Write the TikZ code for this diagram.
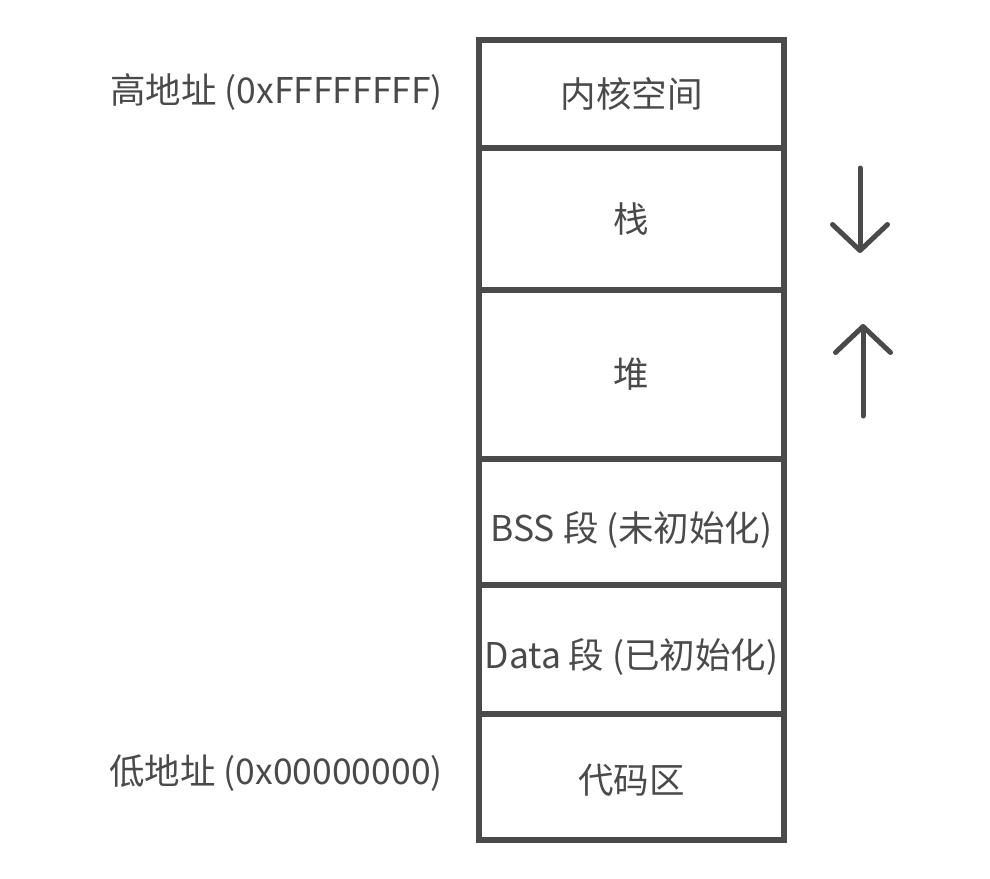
\documentclass[tikz,border=0pt]{standalone}
\usepackage{fontspec}
\setmainfont{Noto Sans CJK SC}
\usepackage{xcolor}
\usepackage{tikz}
\usetikzlibrary{arrows.meta,positioning}
\definecolor{memgray}{HTML}{4A4A4A}

\tikzset{
  seg/.style={draw=memgray, line width=6pt, minimum width=305pt, outer sep=0pt,
    inner sep=0pt, text=memgray, font=\fontsize{35.5}{40}\selectfont},
  addr/.style={text=memgray, font=\fontsize{35.5}{40}\selectfont, anchor=east, inner sep=0pt},
  growarrow/.style={draw=memgray, line width=5pt, line cap=round,
    -{Straight Barb[length=26pt,width=55pt,line join=round,line cap=round]}}
}

\begin{document}
\begin{tikzpicture}
\useasboundingbox (0pt,0pt) rectangle (990pt,-878pt);
\node[seg, minimum height=108pt] (kernel) at (631.5pt,-94pt) {内核空间};
\node[seg, minimum height=142pt, below=0pt of kernel] (stack) {栈};
\node[seg, minimum height=169pt, below=0pt of stack] (heap) {堆};
\node[seg, minimum height=126pt, below=0pt of heap] (bss) {\raisebox{-8pt}[\height][\depth]{BSS 段 (未初始化)}};
\node[seg, minimum height=129pt, below=0pt of bss] (data) {\raisebox{-7pt}[\height][\depth]{Data 段 (已初始化)}};
\node[seg, minimum height=126pt, below=0pt of data] (code) {\raisebox{-3pt}[\height][\depth]{代码区}};
\node[addr] (high) at (443pt,-92pt) {高地址 (0xFFFFFFFF)};
\node[addr] (low) at (443pt,-773pt) {低地址 (0x00000000)};
% growth directions
\coordinate (s1) at (860pt,-168pt);
\coordinate (s2) at (860pt,-253pt);
\coordinate (h1) at (863pt,-416pt);
\coordinate (h2) at (863pt,-324pt);
\draw[growarrow] (s1) -- (s2);
\draw[growarrow] (h1) -- (h2);
\end{tikzpicture}
\end{document}
